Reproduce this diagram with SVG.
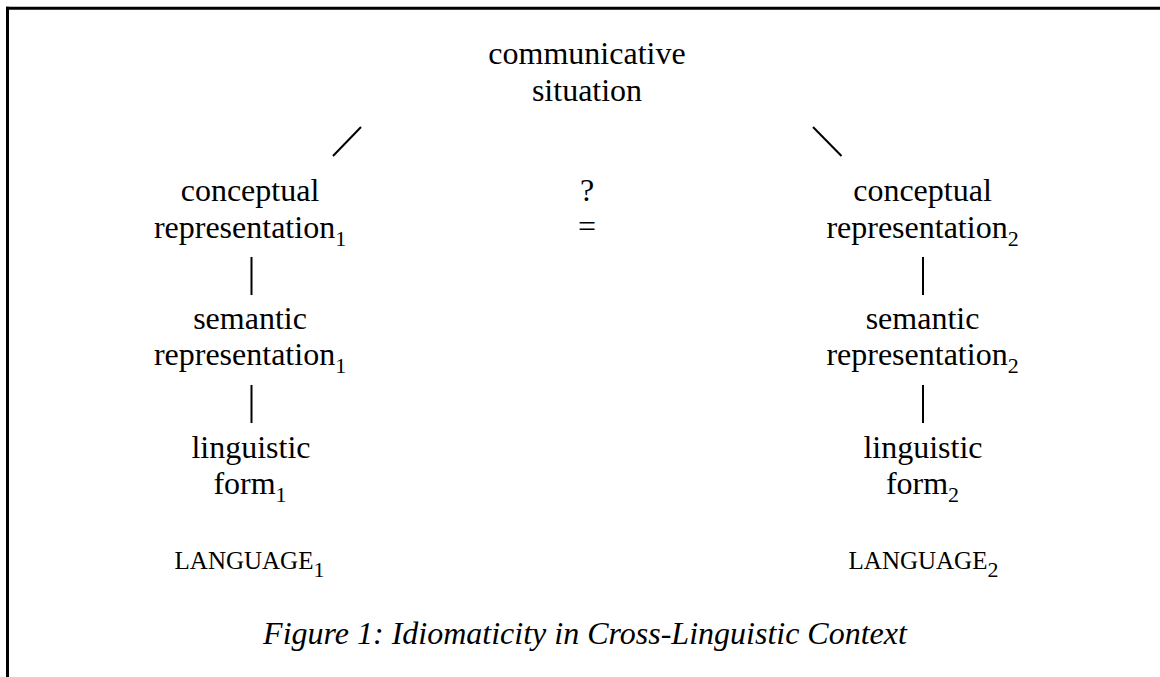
<svg xmlns="http://www.w3.org/2000/svg" width="1160" height="677" viewBox="0 0 1160 677">
<style>
  text { font-family: "Liberation Serif", "Times New Roman", serif; fill: #000; text-anchor: middle; }
  .n { font-size: 32px; }
  .lang { font-size: 25px; }
  .sub { font-size: 22px; }
  .cap { font-size: 32px; font-style: italic; }
  .ln { stroke: #000; stroke-width: 2; fill: none; }
  .frame { stroke: #000; stroke-width: 3; fill: none; }
</style>
<rect width="1160" height="677" fill="#fff"/>
<g id="frame">
  <line class="frame" x1="6" y1="8.3" x2="1160" y2="8.3"/>
  <line class="frame" x1="7.5" y1="6.8" x2="7.5" y2="677"/>
</g>
<g id="connectors">
  <line class="ln" x1="333" y1="156" x2="361" y2="127"/>
  <line class="ln" x1="813" y1="127" x2="841.5" y2="156"/>
  <line class="ln" x1="251.5" y1="257" x2="251.5" y2="295"/>
  <line class="ln" x1="251.5" y1="385" x2="251.5" y2="423"/>
  <line class="ln" x1="923" y1="257" x2="923" y2="295"/>
  <line class="ln" x1="923" y1="385" x2="923" y2="423"/>
</g>
<g id="communicative-situation">
  <text class="n" x="587" y="64">communicative</text>
  <text class="n" x="587" y="100.5">situation</text>
</g>
<g id="equivalence">
  <text class="n" x="587" y="201">?</text>
  <text class="n" x="587" y="237">=</text>
</g>
<g id="conceptual-1">
  <text class="n" x="250" y="201">conceptual</text>
  <text class="n" x="250" y="237.5">representation<tspan class="sub" dy="8">1</tspan></text>
</g>
<g id="semantic-1">
  <text class="n" x="250" y="329">semantic</text>
  <text class="n" x="250" y="365">representation<tspan class="sub" dy="8">1</tspan></text>
</g>
<g id="linguistic-1">
  <text class="n" x="251" y="458">linguistic</text>
  <text class="n" x="250" y="494">form<tspan class="sub" dy="8">1</tspan></text>
</g>
<g id="language-1">
  <text class="lang" x="249.5" y="569">LANGUAGE<tspan class="sub" dy="8">1</tspan></text>
</g>
<g id="conceptual-2">
  <text class="n" x="922.5" y="201">conceptual</text>
  <text class="n" x="922.5" y="237.5">representation<tspan class="sub" dy="8">2</tspan></text>
</g>
<g id="semantic-2">
  <text class="n" x="922.5" y="329">semantic</text>
  <text class="n" x="922.5" y="365">representation<tspan class="sub" dy="8">2</tspan></text>
</g>
<g id="linguistic-2">
  <text class="n" x="923" y="458">linguistic</text>
  <text class="n" x="922.5" y="494">form<tspan class="sub" dy="8">2</tspan></text>
</g>
<g id="language-2">
  <text class="lang" x="923.5" y="569">LANGUAGE<tspan class="sub" dy="8">2</tspan></text>
</g>
<g id="caption">
  <text class="cap" x="585" y="644">Figure 1: Idiomaticity in Cross-Linguistic Context</text>
</g>
</svg>
